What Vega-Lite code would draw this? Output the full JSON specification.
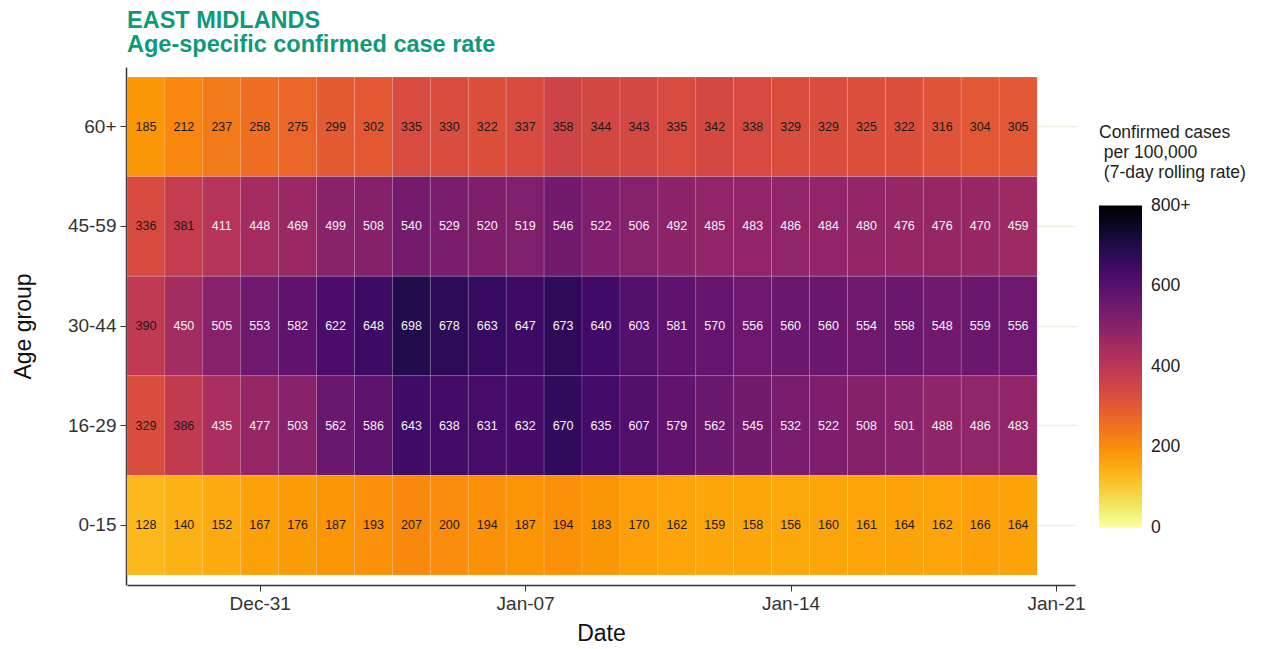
{
  "$schema": "https://vega.github.io/schema/vega-lite/v6.json",
  "width": 948,
  "height": 518,
  "autosize": {"type": "none"},
  "padding": {"left": 127, "top": 67, "right": 186, "bottom": 64},
  "background": "white",
  "title": {
    "text": ["EAST MIDLANDS", "Age-specific confirmed case rate"],
    "anchor": "start",
    "frame": "group",
    "font": "Liberation Sans",
    "fontSize": 23.5,
    "fontWeight": "bold",
    "color": "#0e9a7a",
    "lineHeight": 24,
    "offset": 11
  },
  "data": {
    "format": {"parse": {"d": "date:'%Y-%m-%d'"}},
    "values": [
      {"d":"2020-12-28","a":"60+","v":185},{"d":"2020-12-29","a":"60+","v":212},{"d":"2020-12-30","a":"60+","v":237},{"d":"2020-12-31","a":"60+","v":258},
      {"d":"2021-01-01","a":"60+","v":275},{"d":"2021-01-02","a":"60+","v":299},{"d":"2021-01-03","a":"60+","v":302},{"d":"2021-01-04","a":"60+","v":335},
      {"d":"2021-01-05","a":"60+","v":330},{"d":"2021-01-06","a":"60+","v":322},{"d":"2021-01-07","a":"60+","v":337},{"d":"2021-01-08","a":"60+","v":358},
      {"d":"2021-01-09","a":"60+","v":344},{"d":"2021-01-10","a":"60+","v":343},{"d":"2021-01-11","a":"60+","v":335},{"d":"2021-01-12","a":"60+","v":342},
      {"d":"2021-01-13","a":"60+","v":338},{"d":"2021-01-14","a":"60+","v":329},{"d":"2021-01-15","a":"60+","v":329},{"d":"2021-01-16","a":"60+","v":325},
      {"d":"2021-01-17","a":"60+","v":322},{"d":"2021-01-18","a":"60+","v":316},{"d":"2021-01-19","a":"60+","v":304},{"d":"2021-01-20","a":"60+","v":305},

      {"d":"2020-12-28","a":"45-59","v":336},{"d":"2020-12-29","a":"45-59","v":381},{"d":"2020-12-30","a":"45-59","v":411},{"d":"2020-12-31","a":"45-59","v":448},
      {"d":"2021-01-01","a":"45-59","v":469},{"d":"2021-01-02","a":"45-59","v":499},{"d":"2021-01-03","a":"45-59","v":508},{"d":"2021-01-04","a":"45-59","v":540},
      {"d":"2021-01-05","a":"45-59","v":529},{"d":"2021-01-06","a":"45-59","v":520},{"d":"2021-01-07","a":"45-59","v":519},{"d":"2021-01-08","a":"45-59","v":546},
      {"d":"2021-01-09","a":"45-59","v":522},{"d":"2021-01-10","a":"45-59","v":506},{"d":"2021-01-11","a":"45-59","v":492},{"d":"2021-01-12","a":"45-59","v":485},
      {"d":"2021-01-13","a":"45-59","v":483},{"d":"2021-01-14","a":"45-59","v":486},{"d":"2021-01-15","a":"45-59","v":484},{"d":"2021-01-16","a":"45-59","v":480},
      {"d":"2021-01-17","a":"45-59","v":476},{"d":"2021-01-18","a":"45-59","v":476},{"d":"2021-01-19","a":"45-59","v":470},{"d":"2021-01-20","a":"45-59","v":459},

      {"d":"2020-12-28","a":"30-44","v":390},{"d":"2020-12-29","a":"30-44","v":450},{"d":"2020-12-30","a":"30-44","v":505},{"d":"2020-12-31","a":"30-44","v":553},
      {"d":"2021-01-01","a":"30-44","v":582},{"d":"2021-01-02","a":"30-44","v":622},{"d":"2021-01-03","a":"30-44","v":648},{"d":"2021-01-04","a":"30-44","v":698},
      {"d":"2021-01-05","a":"30-44","v":678},{"d":"2021-01-06","a":"30-44","v":663},{"d":"2021-01-07","a":"30-44","v":647},{"d":"2021-01-08","a":"30-44","v":673},
      {"d":"2021-01-09","a":"30-44","v":640},{"d":"2021-01-10","a":"30-44","v":603},{"d":"2021-01-11","a":"30-44","v":581},{"d":"2021-01-12","a":"30-44","v":570},
      {"d":"2021-01-13","a":"30-44","v":556},{"d":"2021-01-14","a":"30-44","v":560},{"d":"2021-01-15","a":"30-44","v":560},{"d":"2021-01-16","a":"30-44","v":554},
      {"d":"2021-01-17","a":"30-44","v":558},{"d":"2021-01-18","a":"30-44","v":548},{"d":"2021-01-19","a":"30-44","v":559},{"d":"2021-01-20","a":"30-44","v":556},

      {"d":"2020-12-28","a":"16-29","v":329},{"d":"2020-12-29","a":"16-29","v":386},{"d":"2020-12-30","a":"16-29","v":435},{"d":"2020-12-31","a":"16-29","v":477},
      {"d":"2021-01-01","a":"16-29","v":503},{"d":"2021-01-02","a":"16-29","v":562},{"d":"2021-01-03","a":"16-29","v":586},{"d":"2021-01-04","a":"16-29","v":643},
      {"d":"2021-01-05","a":"16-29","v":638},{"d":"2021-01-06","a":"16-29","v":631},{"d":"2021-01-07","a":"16-29","v":632},{"d":"2021-01-08","a":"16-29","v":670},
      {"d":"2021-01-09","a":"16-29","v":635},{"d":"2021-01-10","a":"16-29","v":607},{"d":"2021-01-11","a":"16-29","v":579},{"d":"2021-01-12","a":"16-29","v":562},
      {"d":"2021-01-13","a":"16-29","v":545},{"d":"2021-01-14","a":"16-29","v":532},{"d":"2021-01-15","a":"16-29","v":522},{"d":"2021-01-16","a":"16-29","v":508},
      {"d":"2021-01-17","a":"16-29","v":501},{"d":"2021-01-18","a":"16-29","v":488},{"d":"2021-01-19","a":"16-29","v":486},{"d":"2021-01-20","a":"16-29","v":483},

      {"d":"2020-12-28","a":"0-15","v":128},{"d":"2020-12-29","a":"0-15","v":140},{"d":"2020-12-30","a":"0-15","v":152},{"d":"2020-12-31","a":"0-15","v":167},
      {"d":"2021-01-01","a":"0-15","v":176},{"d":"2021-01-02","a":"0-15","v":187},{"d":"2021-01-03","a":"0-15","v":193},{"d":"2021-01-04","a":"0-15","v":207},
      {"d":"2021-01-05","a":"0-15","v":200},{"d":"2021-01-06","a":"0-15","v":194},{"d":"2021-01-07","a":"0-15","v":187},{"d":"2021-01-08","a":"0-15","v":194},
      {"d":"2021-01-09","a":"0-15","v":183},{"d":"2021-01-10","a":"0-15","v":170},{"d":"2021-01-11","a":"0-15","v":162},{"d":"2021-01-12","a":"0-15","v":159},
      {"d":"2021-01-13","a":"0-15","v":158},{"d":"2021-01-14","a":"0-15","v":156},{"d":"2021-01-15","a":"0-15","v":160},{"d":"2021-01-16","a":"0-15","v":161},
      {"d":"2021-01-17","a":"0-15","v":164},{"d":"2021-01-18","a":"0-15","v":162},{"d":"2021-01-19","a":"0-15","v":166},{"d":"2021-01-20","a":"0-15","v":164}
    ]
  },
  "encoding": {
    "x": {
      "field": "d",
      "type": "temporal",
      "title": "Date",
      "scale": {
        "domain": [
          {"year": 2020, "month": 12, "date": 27, "hours": 12},
          {"year": 2021, "month": 1, "date": 21, "hours": 12}
        ],
        "nice": false,
        "padding": 0
      },
      "axis": {
        "values": [
          {"year": 2020, "month": 12, "date": 31},
          {"year": 2021, "month": 1, "date": 7},
          {"year": 2021, "month": 1, "date": 14},
          {"year": 2021, "month": 1, "date": 21}
        ],
        "format": "%b-%d",
        "grid": false,
        "labelFontSize": 19,
        "labelColor": "#333333",
        "labelPadding": 3,
        "tickSize": 6,
        "tickColor": "#333333",
        "domainColor": "#333333",
        "domainWidth": 1.5,
        "titleFontSize": 23,
        "titleFontWeight": "normal",
        "titleColor": "#111111",
        "titlePadding": 9
      }
    },
    "y": {
      "field": "a",
      "type": "ordinal",
      "title": "Age group",
      "sort": ["60+", "45-59", "30-44", "16-29", "0-15"],
      "scale": {"paddingInner": 0, "paddingOuter": 0.1},
      "axis": {
        "offset": 1,
        "grid": true,
        "gridColor": "#ececdf",
        "gridWidth": 1.5,
        "bandPosition": 0.5,
        "labelFontSize": 19,
        "labelColor": "#333333",
        "labelPadding": 4,
        "tickSize": 6,
        "tickColor": "#333333",
        "domainColor": "#333333",
        "domainWidth": 1.5,
        "titleFontSize": 23,
        "titleFontWeight": "normal",
        "titleColor": "#111111",
        "titlePadding": 32
      }
    }
  },
  "layer": [
    {
      "mark": {
        "type": "bar",
        "orient": "vertical",
        "width": 38,
        "stroke": "white",
        "strokeOpacity": 0.15,
        "strokeWidth": 1
      },
      "encoding": {
        "color": {
          "field": "v",
          "type": "quantitative",
          "scale": {"scheme": "inferno", "reverse": true, "domain": [0, 800], "clamp": true},
          "legend": {
            "orient": "none",
            "legendX": 972,
            "legendY": 57,
            "direction": "vertical",
            "padding": 0,
            "title": ["Confirmed cases", "\u200b per 100,000", "\u200b (7-day rolling rate)"],
            "titleFontSize": 17.5,
            "titleFontWeight": "normal",
            "titleColor": "#222222",
            "titleLineHeight": 20,
            "titlePadding": 24,
            "gradientLength": 322,
            "gradientThickness": 43,
            "gradientStrokeWidth": 0,
            "labelFontSize": 17.5,
            "labelColor": "#222222",
            "labelOffset": 9,
            "labelOverlap": false,
            "values": [0, 200, 400, 600, 800],
            "labelExpr": "datum.value >= 800 ? '800+' : datum.label",
            "encode": {
              "labels": {"update": {"baseline": {"value": "middle"}}}
            }
          }
        }
      }
    },
    {
      "mark": {"type": "text", "fontSize": 12.5, "font": "Liberation Sans"},
      "encoding": {
        "text": {"field": "v", "type": "quantitative"},
        "color": {
          "condition": {"test": "datum.v >= 400", "value": "#f5f5f5"},
          "value": "#1a1a1a"
        }
      }
    }
  ],
  "config": {
    "font": "Liberation Sans",
    "view": {"stroke": null}
  }
}
